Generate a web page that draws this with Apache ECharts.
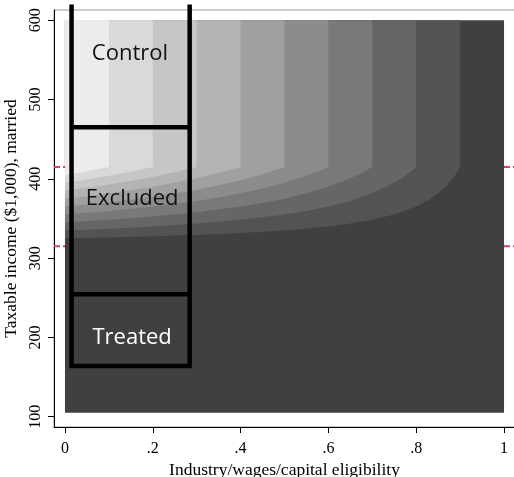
<!DOCTYPE html>
<html>
<head>
<meta charset="utf-8">
<script src="https://cdn.jsdelivr.net/npm/echarts@6/dist/echarts.min.js"></script>
<style>html,body{margin:0;padding:0;background:#fff}#c{width:514px;height:477px}</style>
</head>
<body>
<div id="c"></div>
<script>
// ---- data ----
const xTicks = [0, 0.2, 0.4, 0.6, 0.8, 1];
const xTickLabels = ['0', '.2', '.4', '.6', '.8', '1'];
const yTicks = [100, 200, 300, 400, 500, 600];
const xName = 'Industry/wages/capital eligibility';
const yName = 'Taxable income ($1,000), married';

// contour cut levels (vertical boundaries above the phase-in range)
const contourLevels = [0.1, 0.2, 0.3, 0.4, 0.5, 0.6, 0.7, 0.8, 0.9];
// extent of the shaded surface
const surfaceX = [0, 1];
const surfaceY = [105, 600];
// lower boundary of each lighter region: [eligibility, income]
const boundary1 = [[0, 405], [0.05, 409.7], [0.1, 415]];
const boundary2 = [[0, 395], [0.05, 399.2], [0.1, 403.9], [0.15, 409.1], [0.2, 415]];
const boundary3 = [[0, 385], [0.05, 388.7], [0.1, 392.8], [0.15, 397.4], [0.2, 402.5], [0.25, 408.3], [0.3, 415]];
const boundary4 = [[0, 375], [0.05, 378.2], [0.1, 381.7], [0.15, 385.6], [0.2, 390], [0.25, 395], [0.3, 400.7], [0.35, 407.3], [0.4, 415]];
const boundary5 = [[0, 365], [0.05, 367.6], [0.1, 370.6], [0.15, 373.8], [0.2, 377.5], [0.25, 381.7], [0.3, 386.4], [0.35, 391.9], [0.4, 398.3], [0.45, 405.9], [0.5, 415]];
const boundary6 = [[0, 355], [0.1, 359.4], [0.2, 365], [0.3, 372.1], [0.35, 376.5], [0.4, 381.7], [0.45, 387.7], [0.5, 395], [0.55, 403.9], [0.58, 410.2], [0.6, 415]];
const boundary7 = [[0, 345], [0.1, 348.3], [0.2, 352.5], [0.3, 357.9], [0.4, 365], [0.45, 369.5], [0.5, 375], [0.55, 381.7], [0.6, 390], [0.65, 400.7], [0.68, 408.8], [0.7, 415]];
const boundary8 = [[0, 335], [0.1, 337.2], [0.2, 340], [0.3, 343.6], [0.4, 348.3], [0.5, 355], [0.55, 359.4], [0.6, 365], [0.65, 372.1], [0.7, 381.7], [0.75, 395], [0.77, 402], [0.79, 410.2], [0.8, 415]];
const boundary9 = [[0, 325], [0.1, 326.1], [0.2, 327.5], [0.3, 329.3], [0.4, 331.7], [0.5, 335], [0.6, 340], [0.65, 343.6], [0.7, 348.3], [0.75, 355], [0.8, 365], [0.83, 373.8], [0.85, 381.7], [0.87, 391.9], [0.89, 405.9], [0.9, 415]];
const boundaries = [boundary1, boundary2, boundary3, boundary4, boundary5, boundary6, boundary7, boundary8, boundary9];

// phase-in thresholds (dashed reference lines)
const thresholds = [315, 415];

// annotation boxes
const boxX = [0.015, 0.284];
const boxTop = 617;
const boxBottom = 164;
const boxDividers = [465, 254.5];
const labelNames = ['Control', 'Excluded', 'Treated'];
const labelX = [0.148, 0.153, 0.153];
const labelY = [558, 375, 200];

// ---- styles ----
const bandColors = ['#ececec', '#d9d9d9', '#c6c6c6', '#b3b3b3', '#a0a0a0', '#8c8c8c', '#797979', '#666666', '#535353', '#404040'];
const labelColors = ['#111', '#111', '#fff'];
const serif = '"Liberation Serif", "Times New Roman", serif';

const chart = echarts.init(document.getElementById('c'), null, {renderer: 'canvas'});

const xMin = -0.025, xMax = 1.025, yMin = 87, yMax = 613;

function renderSurface(params, api) {
  const i = params.dataIndex;
  let pts, color;
  if (i === 0) {
    pts = [[surfaceX[0], surfaceY[0]], [surfaceX[1], surfaceY[0]], [surfaceX[1], surfaceY[1]], [surfaceX[0], surfaceY[1]]];
    color = bandColors[9];
  } else {
    const k = 10 - i; // 9..1
    const b = boundaries[k - 1];
    pts = b.slice();
    pts.push([contourLevels[k - 1], surfaceY[1]]);
    pts.push([surfaceX[0], surfaceY[1]]);
    color = bandColors[k - 1];
  }
  return {
    type: 'polygon',
    shape: {points: pts.map(p => api.coord(p))},
    style: {fill: color, stroke: null}
  };
}

const surfaceData = [];
for (let i = 0; i < 10; i++) surfaceData.push([i]);

const series = [];
thresholds.forEach(t => {
  series.push({
    type: 'line', z: 1, clip: false, symbol: 'none', silent: true,
    data: [[xMin, t], [xMax, t]],
    lineStyle: {color: '#d6406a', width: 2, type: [6, 3]}
  });
});
series.push({
  type: 'custom', z: 2, clip: false, silent: true,
  renderItem: renderSurface,
  data: surfaceData
});
series.push({
  type: 'line', z: 3, clip: false, symbol: 'none', silent: true,
  data: [[boxX[0], boxTop], [boxX[0], boxBottom], [boxX[1], boxBottom], [boxX[1], boxTop]],
  lineStyle: {color: '#000', width: 4.5, join: 'miter', cap: 'square'}
});
boxDividers.forEach(d => {
  series.push({
    type: 'line', z: 3, clip: false, symbol: 'none', silent: true,
    data: [[boxX[0], d], [boxX[1], d]],
    lineStyle: {color: '#000', width: 4.5}
  });
});
series.push({
  type: 'scatter', z: 4, symbolSize: 0, silent: true,
  itemStyle: {opacity: 1},
  data: labelNames.map((n, i) => ({
    name: n,
    value: [labelX[i], labelY[i]],
    label: {color: labelColors[i]}
  })),
  label: {
    show: true, position: 'inside', formatter: '{b}',
    fontFamily: '"Open Sans", "Noto Sans", sans-serif', fontSize: 22
  }
});

chart.setOption({
  animation: false,
  backgroundColor: '#fff',
  grid: {
    left: 54, top: 10, width: 461, height: 417,
    show: true, borderColor: '#9a9a9a', borderWidth: 1, backgroundColor: '#fff',
    outerBoundsMode: 'none'
  },
  xAxis: {
    type: 'value', min: xMin, max: xMax,
    splitLine: {show: false},
    axisLine: {show: true, onZero: false, lineStyle: {color: '#000', width: 1}},
    axisTick: {show: true, length: 6, customValues: xTicks, lineStyle: {color: '#000'}},
    axisLabel: {
      customValues: xTicks, margin: 14, color: '#000', fontFamily: serif, fontSize: 16,
      formatter: v => {
        const i = xTicks.findIndex(t => Math.abs(t - v) < 1e-9);
        return i >= 0 ? xTickLabels[i] : '';
      }
    },
    name: xName, nameLocation: 'middle', nameGap: 26,
    nameTextStyle: {color: '#000', fontFamily: serif, fontSize: 17.5}
  },
  yAxis: {
    type: 'value', min: yMin, max: yMax,
    splitLine: {show: false},
    axisLine: {show: true, onZero: false, lineStyle: {color: '#000', width: 1}},
    axisTick: {show: true, length: 6, customValues: yTicks, lineStyle: {color: '#000'}},
    axisLabel: {
      customValues: yTicks, margin: 10, rotate: 90, color: '#000', fontFamily: serif, fontSize: 16,
      formatter: v => String(Math.round(v))
    },
    name: yName, nameLocation: 'middle', nameGap: 21, nameRotate: 90,
    nameTextStyle: {color: '#000', fontFamily: serif, fontSize: 17.5}
  },
  series: series
});
</script>
</body>
</html>
